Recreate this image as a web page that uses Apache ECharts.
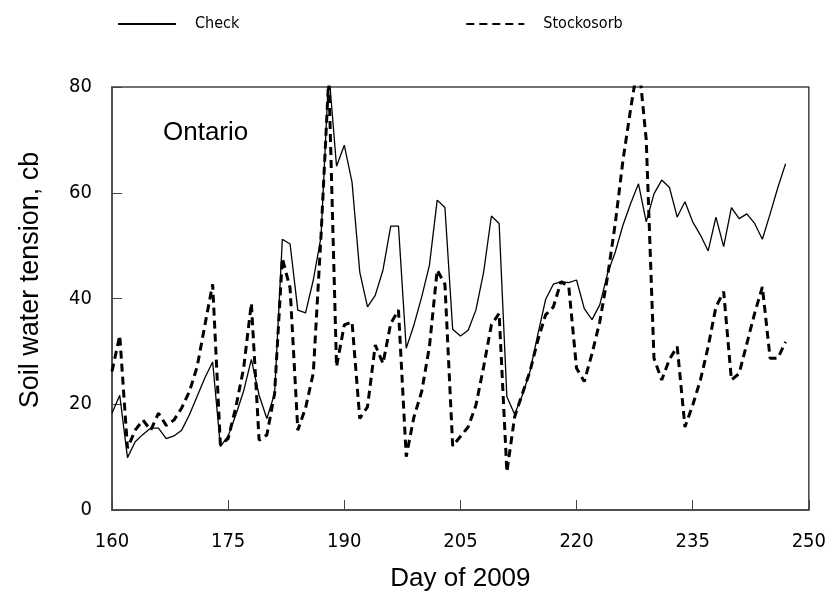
<!DOCTYPE html>
<html>
<head>
<meta charset="utf-8">
<script src="https://cdn.jsdelivr.net/npm/echarts@6/dist/echarts.min.js"></script>
<style>
  html, body { margin: 0; padding: 0; background: #fff; }
  #chart { width: 829px; height: 599px; }
</style>
</head>
<body>
<div id="chart"></div>
<script>
// day of year for each reading
const days = [
  160, 161, 162, 163, 164, 165, 166, 167, 168, 169,
  170, 171, 172, 173, 174, 175, 176, 177, 178, 179,
  180, 181, 182, 183, 184, 185, 186, 187, 188, 189,
  190, 191, 192, 193, 194, 195, 196, 197, 198, 199,
  200, 201, 202, 203, 204, 205, 206, 207, 208, 209,
  210, 211, 212, 213, 214, 215, 216, 217, 218, 219,
  220, 221, 222, 223, 224, 225, 226, 227, 228, 229,
  230, 231, 232, 233, 234, 235, 236, 237, 238, 239,
  240, 241, 242, 243, 244, 245, 246, 247
]

const checkVals = [
  18.3, 21.7, 9.9, 12.9, 14.3, 15.5, 15.5, 13.5, 14.0, 15.1,
  18, 21.5, 25, 28, 12, 14, 18, 22.5, 28.5, 21.7,
  17.3, 22, 51.2, 50.3, 37.8, 37.3, 43.5, 51.7, 83, 65,
  69, 62, 45, 38.4, 40.6, 45.4, 53.7, 53.7, 30.6, 35,
  40.3, 46.3, 58.6, 57.2, 34.2, 32.9, 34, 37.8, 45, 55.6,
  54.2, 21.4, 18.1, 21.7, 26.3, 33.2, 39.8, 42.7, 43.2, 43,
  43.5, 38.1, 36, 38.8, 44.7, 48.8, 53.9, 58, 61.7, 54.5,
  59.8, 62.4, 61, 55.4, 58.3, 54.5, 52, 49, 55.4, 49.8,
  57.2, 55.1, 56, 54.2, 51.2, 56, 61, 65.5
]

const stockosorbVals = [
  26.2, 33, 11.7, 15.1, 17, 15.1, 18.3, 16, 17, 19.3,
  22.4, 27.1, 35, 42.7, 12.3, 13.5, 19.5, 26.8, 39.1, 13.2,
  14.2, 22, 47.6, 42, 15.1, 19.3, 25.9, 52, 82, 27.1,
  35, 35.6, 17.3, 19.5, 31.2, 27.7, 35.3, 37.8, 10.1, 17.6,
  22.4, 30.9, 45.4, 42.7, 12.1, 13.9, 15.7, 19.8, 27.1, 35,
  37.2, 7.2, 17.6, 22, 26.3, 32.1, 36.9, 38.4, 43.2, 42.2,
  26.8, 24.3, 29.6, 35.6, 44.1, 54.2, 66.2, 76, 85, 70,
  28.7, 24.6, 28.5, 30.9, 15.7, 19.8, 24.6, 30.9, 38.4, 41.3,
  24.6, 25.8, 31.5, 37.2, 42.2, 28.7, 28.7, 31.8
]

const xTicks = [160, 175, 190, 205, 220, 235, 250]
const yTicks = [0, 20, 40, 60, 80]

const narrow = "'Liberation Sans Narrow', 'DejaVu Sans Condensed', Arial, sans-serif"
const sans = "'Liberation Sans', Arial, sans-serif"

const chart = echarts.init(document.getElementById('chart'))

const pairs = vals => days.map((d, i) => [d, vals[i]])

chart.setOption({
  animation: false,
  backgroundColor: '#fff',
  legend: {
    left: 112,
    top: 11,
    itemWidth: 58,
    itemHeight: 14,
    itemGap: 226,
    itemStyle: { opacity: 0 },
    textStyle: { fontFamily: narrow, fontSize: 16, color: '#000', padding: [0, 0, 0, 14] },
    data: ['Check', 'Stockosorb']
  },
  grid: {
    left: 112,
    right: 19,
    top: 87,
    bottom: 89,
    show: true,
    borderColor: '#444',
    borderWidth: 1.5
  },
  graphic: [
    {
      type: 'text',
      left: 163,
      top: 120,
      style: { text: 'Ontario', font: '26px ' + sans, fill: '#000' }
    },
    {
      type: 'text',
      x: 31,
      y: 280,
      rotation: Math.PI / 2,
      style: {
        text: 'Soil water tension, cb',
        font: '27px ' + sans,
        fill: '#000',
        align: 'center',
        verticalAlign: 'middle'
      }
    }
  ],
  xAxis: {
    type: 'value',
    min: 160,
    max: 250,
    name: 'Day of 2009',
    nameLocation: 'middle',
    nameGap: 56,
    nameTextStyle: { fontFamily: sans, fontSize: 26, color: '#000' },
    axisLine: { lineStyle: { color: '#444', width: 1.5 } },
    axisTick: { inside: true, length: 10, customValues: xTicks, lineStyle: { color: '#444' } },
    axisLabel: {
      customValues: xTicks,
      margin: 22,
      fontFamily: narrow,
      fontSize: 20,
      color: '#000'
    },
    splitLine: { show: false }
  },
  yAxis: {
    type: 'value',
    min: 0,
    max: 80,
    interval: 20,
    axisLine: { show: true, lineStyle: { color: '#444', width: 1.5 } },
    axisTick: { show: true, inside: true, length: 10, customValues: yTicks, lineStyle: { color: '#444' } },
    axisLabel: {
      customValues: yTicks,
      margin: 20,
      fontFamily: narrow,
      fontSize: 20,
      color: '#000'
    },
    splitLine: { show: false }
  },
  series: [
    {
      name: 'Check',
      type: 'line',
      symbol: 'none',
      clip: true,
      lineStyle: { color: '#000', width: 1.3 },
      itemStyle: { color: '#000' },
      data: pairs(checkVals)
    },
    {
      name: 'Stockosorb',
      type: 'line',
      symbol: 'none',
      clip: true,
      lineStyle: { color: '#000', width: 3, type: [8, 5] },
      itemStyle: { color: '#000' },
      data: pairs(stockosorbVals)
    }
  ]
})
</script>
</body>
</html>
